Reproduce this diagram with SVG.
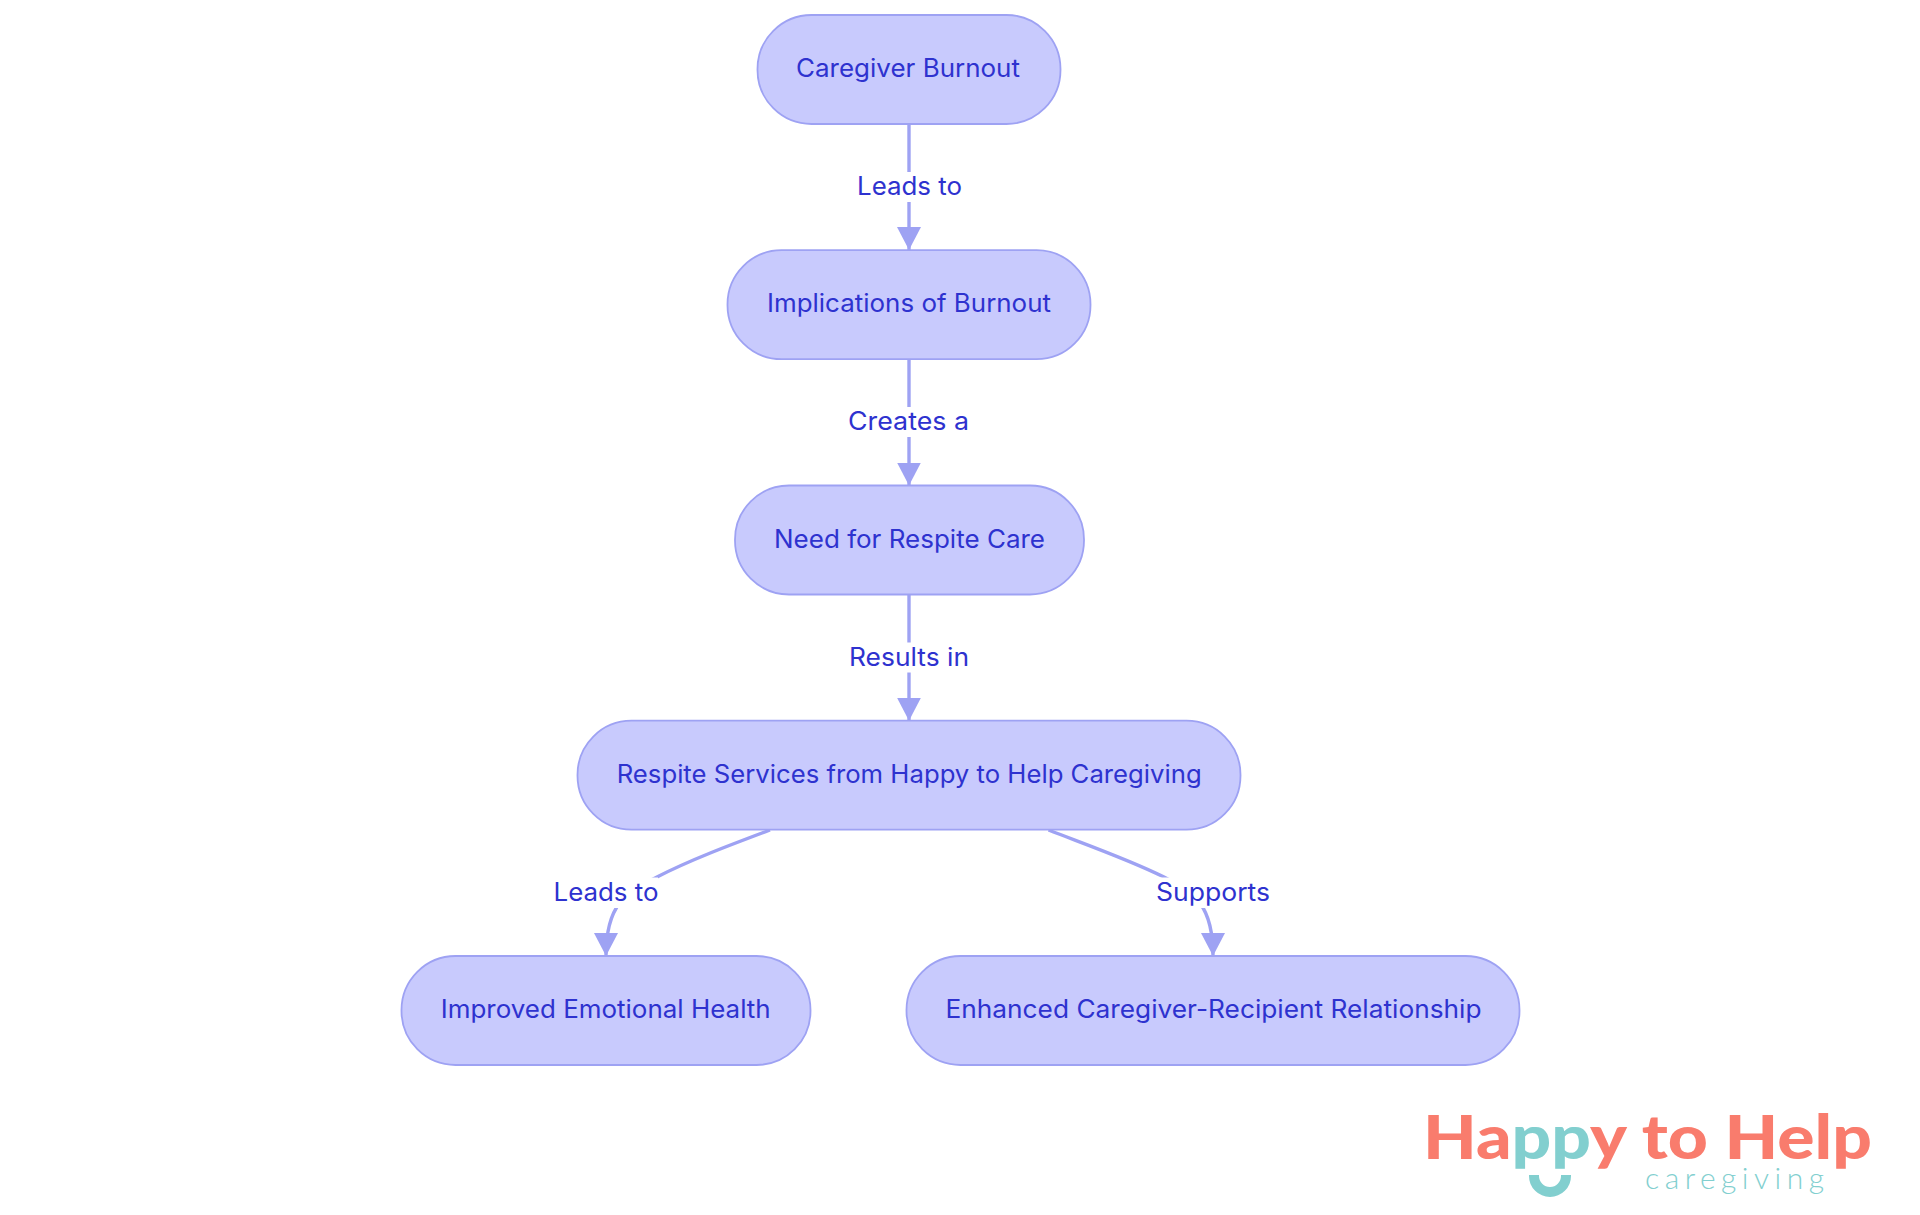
<svg xmlns="http://www.w3.org/2000/svg" width="1920" height="1215" viewBox="0 0 1920 1215">
<defs>
<style>
.node rect{fill:#c8cafd;stroke:#9ea2f3;stroke-width:1.8}
.t{font-family:"Inter","Noto Sans",sans-serif;font-size:25px;fill:#2e32cf;text-anchor:middle}
.edge{fill:none;stroke:#9ea2f3;stroke-width:3.4;marker-end:url(#arrow)}
.lb{fill:#fff}
.logo{font-family:"Lato","Noto Sans",sans-serif}
.coral{fill:#f97c6d}
.teal{fill:#82cfcf}
</style>
<marker id="arrow" markerUnits="userSpaceOnUse" markerWidth="24" markerHeight="24" refX="23" refY="12" orient="auto">
<path d="M0 0L23 12L0 24Z" fill="#9ea2f3"/>
</marker>
</defs>
<rect width="1920" height="1215" fill="#fff"/>
<g id="connectors">
<path class="edge" d="M909 124V250"/>
<path class="edge" d="M909 359V485.5"/>
<path class="edge" d="M909 594V720.7"/>
<path class="edge" d="M770 830C730 845 690 860 657 877C630 891 606 900 606 956"/>
<path class="edge" d="M1048.5 830C1090 846 1130 860 1164 877C1195 893 1213 905 1213 956"/>
<g id="edge-labels">
<rect class="lb" x="857" y="172" width="105" height="30"/><text class="t" x="909.5" y="195" textLength="105" lengthAdjust="spacingAndGlyphs">Leads to</text>
<rect class="lb" x="848" y="407" width="121" height="30"/><text class="t" x="908.5" y="430" textLength="121" lengthAdjust="spacingAndGlyphs">Creates a</text>
<rect class="lb" x="849" y="642.500" width="120" height="30"/><text class="t" x="909" y="665.500" textLength="120" lengthAdjust="spacingAndGlyphs">Results in</text>
<rect class="lb" x="553" y="877.500" width="105" height="30.500"/><text class="t" x="606" y="901" textLength="105" lengthAdjust="spacingAndGlyphs">Leads to</text>
<rect class="lb" x="1156" y="877.500" width="114.500" height="30.500"/><text class="t" x="1213" y="901" textLength="114" lengthAdjust="spacingAndGlyphs">Supports</text>
</g>
</g>
<g id="n1" class="node"><rect x="757.500" y="15" width="303" height="109" rx="54" ry="54"/><text class="t" x="908" y="77" textLength="224" lengthAdjust="spacingAndGlyphs">Caregiver Burnout</text></g>
<g id="n2" class="node"><rect x="727.500" y="250.200" width="363" height="109" rx="54" ry="54"/><text class="t" x="909" y="312" textLength="284" lengthAdjust="spacingAndGlyphs">Implications of Burnout</text></g>
<g id="n3" class="node"><rect x="735" y="485.500" width="349" height="109" rx="54" ry="54"/><text class="t" x="909.500" y="547.500" textLength="271" lengthAdjust="spacingAndGlyphs">Need for Respite Care</text></g>
<g id="n4" class="node"><rect x="577.500" y="720.700" width="663" height="109" rx="54" ry="54"/><text class="t" x="909.200" y="782.700" textLength="585" lengthAdjust="spacingAndGlyphs">Respite Services from Happy to Help Caregiving</text></g>
<g id="n5" class="node"><rect x="401.500" y="956" width="409" height="109" rx="54" ry="54"/><text class="t" x="605.700" y="1017.700" textLength="330" lengthAdjust="spacingAndGlyphs">Improved Emotional Health</text></g>
<g id="n6" class="node"><rect x="906.500" y="956" width="613" height="109" rx="54" ry="54"/><text class="t" x="1213.500" y="1017.700" textLength="536" lengthAdjust="spacingAndGlyphs">Enhanced Caregiver-Recipient Relationship</text></g>
<g id="logo">
<text class="logo" x="1423" y="1159" font-size="61" font-weight="900" textLength="449" lengthAdjust="spacingAndGlyphs"><tspan class="coral">Ha</tspan><tspan class="teal">pp</tspan><tspan class="coral">y to Help</tspan></text>
<text class="logo teal" x="1645" y="1189" font-size="30" font-weight="300" textLength="179" lengthAdjust="spacing">caregiving</text>
<path d="M1534 1175v1a16 16 0 0 0 32 0v-1" fill="none" stroke="#82cfcf" stroke-width="10"/>
</g>
</svg>
